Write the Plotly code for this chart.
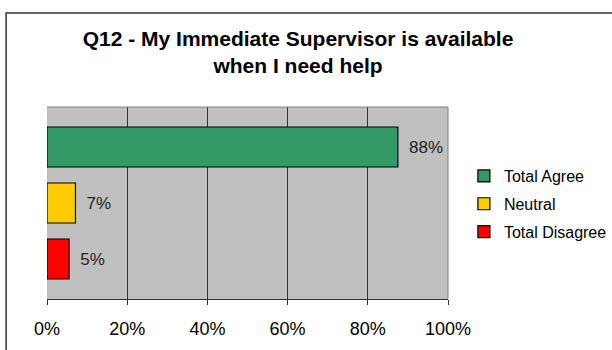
import plotly.graph_objects as go

series = ["Total Agree", "Neutral", "Total Disagree"]
values = [0.875, 0.071, 0.055]
labels = ["88%", "7%", "5%"]
colors = ["#339966", "#FFCC00", "#FF0000"]
category = [""]
tick_vals = [0, 0.2, 0.4, 0.6, 0.8, 1.0]
tick_text = ["0%", "20%", "40%", "60%", "80%", "100%"]

FONT = "Liberation Sans, Arial"

fig = go.Figure()
# Reverse so first series sits on top in grouped horizontal bars
items = list(enumerate(zip(series, values, labels, colors)))
for rank, (name, v, lab, c) in reversed(items):
    fig.add_trace(go.Bar(
        name=name, y=category, x=[v], orientation="h", legendgroup=name,
        legendrank=rank + 1,
        marker=dict(color=c, line=dict(color="#000000", width=1.2)),
        text=["\u00a0\u2009" + lab], textposition="outside", cliponaxis=False,
        textfont=dict(family=FONT, size=17, color="#222222"),
    ))

fig.update_layout(
    width=612, height=350,
    margin=dict(l=47, r=164, t=107, b=51, autoexpand=False),
    paper_bgcolor="#FFFFFF", plot_bgcolor="#C0C0C0",
    barmode="group", bargap=0.125, bargroupgap=0.286,
    title=dict(text="<b>Q12 - My Immediate Supervisor is available<br>when I need help</b>",
               xref="container", yref="container",
               x=0.487, xanchor="center", y=0.869, yanchor="middle",
               font=dict(family=FONT, size=21, color="#000000")),
    legend=dict(traceorder="grouped", xref="container", yref="container",
                x=0.758, xanchor="left", y=0.417, yanchor="middle",
                font=dict(family=FONT, size=16, color="#000000"),
                itemwidth=30, tracegroupgap=4, bgcolor="rgba(0,0,0,0)"),
    xaxis=dict(range=[0, 1], tickvals=tick_vals, ticktext=tick_text,
               showgrid=True, gridcolor="#333333", gridwidth=1,
               showline=True, linecolor="#333333", linewidth=1,
               ticks="outside", ticklen=5, tickcolor="#333333",
               ticklabelstandoff=8,
               tickfont=dict(family=FONT, size=18, color="#000000"),
               zeroline=False, mirror=False),
    yaxis=dict(showticklabels=False, showgrid=False, zeroline=False,
               showline=False),
    showlegend=True,
    shapes=[
        dict(type="rect", xref="paper", yref="paper", x0=-0.102, x1=1.5, y0=-0.4, y1=1.49,
             line=dict(color="#333333", width=1.5), fillcolor="rgba(0,0,0,0)", layer="below"),
        dict(type="line", xref="paper", yref="paper", x0=0, x1=1, y0=1, y1=1,
             line=dict(color="#808080", width=1)),
        dict(type="line", xref="paper", yref="paper", x0=1, x1=1, y0=0, y1=1,
             line=dict(color="#808080", width=1)),
    ],
)

fig.write_html("out.html")
